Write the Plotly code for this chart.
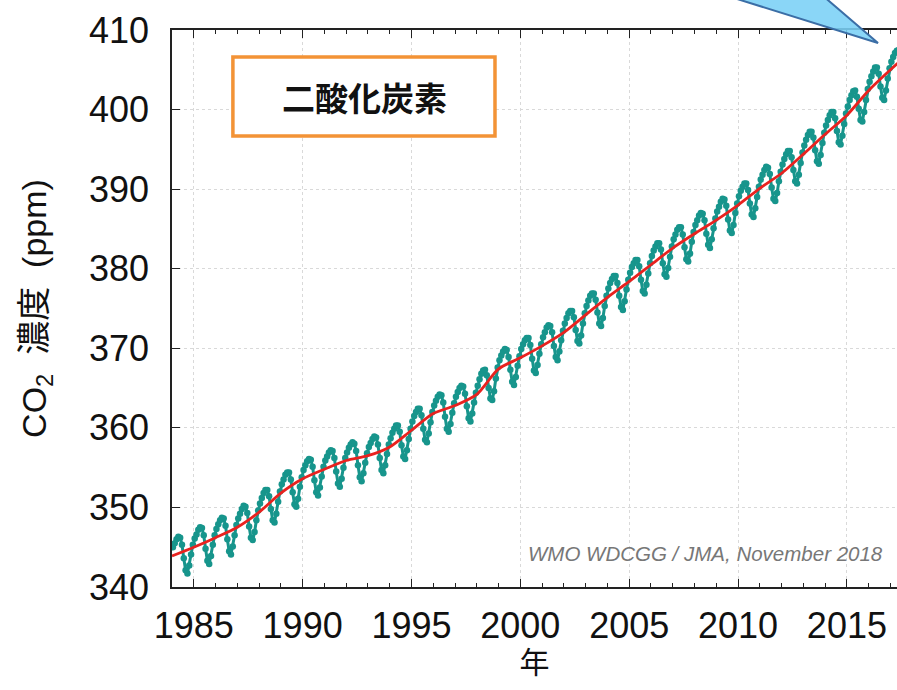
import plotly.graph_objects as go

# Monthly CO2 concentration (ppm), one row per year, Jan..Dec
years = list(range(1984, 2018))
monthly_ppm = [
    [345.0, 345.5, 346.0, 346.3, 346.2, 345.3, 343.6, 342.1, 341.7, 342.7, 344.1, 345.3],  # 1984
    [346.1, 346.6, 347.2, 347.5, 347.4, 346.5, 344.8, 343.3, 342.9, 343.9, 345.3, 346.5],  # 1985
    [347.3, 347.9, 348.4, 348.7, 348.6, 347.7, 346.0, 344.5, 344.1, 345.1, 346.5, 347.8],  # 1986
    [348.6, 349.2, 349.8, 350.2, 350.1, 349.3, 347.6, 346.2, 345.9, 346.9, 348.4, 349.6],  # 1987
    [350.5, 351.2, 351.8, 352.2, 352.2, 351.4, 349.8, 348.4, 348.1, 349.2, 350.7, 352.0],  # 1988
    [352.9, 353.5, 354.1, 354.4, 354.4, 353.5, 351.9, 350.4, 350.1, 351.1, 352.6, 353.8],  # 1989
    [354.7, 355.3, 355.8, 356.1, 356.0, 355.1, 353.4, 351.9, 351.5, 352.5, 353.9, 355.1],  # 1990
    [355.9, 356.4, 356.9, 357.2, 357.1, 356.2, 354.5, 353.0, 352.6, 353.6, 355.0, 356.2],  # 1991
    [356.9, 357.5, 357.9, 358.2, 358.0, 357.1, 355.3, 353.8, 353.3, 354.3, 355.6, 356.8],  # 1992
    [357.6, 358.1, 358.6, 358.9, 358.8, 357.9, 356.2, 354.7, 354.3, 355.3, 356.7, 357.9],  # 1993
    [358.7, 359.4, 359.9, 360.3, 360.3, 359.5, 357.8, 356.4, 356.1, 357.2, 358.6, 359.9],  # 1994
    [360.8, 361.5, 362.0, 362.4, 362.4, 361.6, 359.9, 358.5, 358.2, 359.3, 360.7, 362.0],  # 1995
    [362.8, 363.4, 363.9, 364.2, 364.1, 363.2, 361.4, 359.9, 359.5, 360.5, 361.9, 363.1],  # 1996
    [363.9, 364.5, 365.0, 365.3, 365.2, 364.3, 362.7, 361.2, 360.8, 361.8, 363.2, 364.4],  # 1997
    [365.3, 366.1, 366.8, 367.2, 367.3, 366.6, 365.0, 363.7, 363.5, 364.6, 366.2, 367.6],  # 1998
    [368.5, 369.1, 369.6, 369.9, 369.8, 368.9, 367.3, 365.8, 365.4, 366.4, 367.8, 369.0],  # 1999
    [369.9, 370.5, 371.0, 371.3, 371.3, 370.4, 368.7, 367.2, 366.9, 367.9, 369.3, 370.5],  # 2000
    [371.4, 372.0, 372.6, 372.9, 372.8, 372.0, 370.3, 368.9, 368.5, 369.6, 371.0, 372.2],  # 2001
    [373.1, 373.8, 374.4, 374.7, 374.7, 373.9, 372.3, 370.9, 370.6, 371.6, 373.1, 374.4],  # 2002
    [375.3, 376.0, 376.6, 376.9, 376.9, 376.1, 374.5, 373.1, 372.8, 373.8, 375.3, 376.6],  # 2003
    [377.5, 378.2, 378.7, 379.1, 379.1, 378.2, 376.6, 375.2, 374.8, 375.9, 377.4, 378.6],  # 2004
    [379.5, 380.2, 380.7, 381.1, 381.1, 380.3, 378.6, 377.2, 376.9, 378.0, 379.4, 380.7],  # 2005
    [381.6, 382.3, 382.8, 383.2, 383.2, 382.4, 380.7, 379.3, 379.0, 380.1, 381.5, 382.8],  # 2006
    [383.7, 384.3, 384.9, 385.2, 385.2, 384.3, 382.7, 381.2, 380.9, 381.9, 383.4, 384.6],  # 2007
    [385.5, 386.1, 386.7, 387.0, 386.9, 386.1, 384.4, 383.0, 382.6, 383.7, 385.1, 386.3],  # 2008
    [387.2, 387.8, 388.4, 388.8, 388.7, 387.9, 386.2, 384.8, 384.5, 385.5, 387.0, 388.2],  # 2009
    [389.1, 389.8, 390.3, 390.7, 390.7, 389.9, 388.2, 386.8, 386.5, 387.6, 389.0, 390.3],  # 2010
    [391.2, 391.8, 392.4, 392.8, 392.7, 391.9, 390.2, 388.8, 388.5, 389.5, 391.0, 392.2],  # 2011
    [393.1, 393.8, 394.4, 394.8, 394.8, 394.0, 392.4, 391.0, 390.7, 391.8, 393.3, 394.6],  # 2012
    [395.5, 396.2, 396.8, 397.2, 397.2, 396.5, 394.9, 393.5, 393.2, 394.3, 395.8, 397.1],  # 2013
    [398.0, 398.7, 399.3, 399.7, 399.7, 398.9, 397.3, 395.9, 395.6, 396.7, 398.2, 399.5],  # 2014
    [400.4, 401.2, 401.8, 402.3, 402.4, 401.6, 400.1, 398.7, 398.5, 399.7, 401.2, 402.6],  # 2015
    [403.5, 404.2, 404.8, 405.3, 405.3, 404.5, 402.9, 401.5, 401.2, 402.4, 403.9, 405.2],  # 2016
    [406.0, 406.6, 407.1, 407.4, 407.5, 406.8, 405.3, 404.0, 403.7, 404.8, 406.3, 407.6],  # 2017
]

# Deseasonalised trend (ppm) at the start of each year
trend_years = list(range(1984, 2019))
trend_ppm = [343.9, 345.0, 346.2, 347.5, 349.4, 351.8, 353.6, 354.8, 355.9, 356.5,
             357.6, 359.7, 361.8, 362.8, 364.2, 367.4, 368.8, 370.3, 372.0, 374.2,
             376.4, 378.4, 380.5, 382.6, 384.4, 386.1, 388.0, 390.1, 392.0, 394.4,
             396.9, 399.3, 402.4, 405.0, 407.4]

x_ticks = [1985, 1990, 1995, 2000, 2005, 2010, 2015]
y_ticks = [340, 350, 360, 370, 380, 390, 400, 410]

# Decimal-year time axis at mid-month
t_month = []
v_month = []
for yr, row in zip(years, monthly_ppm):
    for m, v in enumerate(row):
        t_month.append(yr + (m + 0.5) / 12)
        v_month.append(v)

TEAL = "#17958c"
RED = "#e8221f"
FONT = "Liberation Sans, Arial, Noto Sans CJK JP, sans-serif"

fig = go.Figure()
fig.add_trace(go.Scatter(
    x=t_month, y=v_month, mode="lines+markers",
    line=dict(color=TEAL, width=3),
    marker=dict(color=TEAL, size=6.5),
    showlegend=False, hoverinfo="skip",
))
fig.add_trace(go.Scatter(
    x=trend_years, y=trend_ppm, mode="lines",
    line=dict(color=RED, width=2.8, shape="spline", smoothing=0.8),
    showlegend=False, hoverinfo="skip",
))

axis_common = dict(
    showline=True, linecolor="#222222", linewidth=1.6,
    ticks="inside", tickcolor="#222222", tickwidth=1.4, ticklen=8,
    showgrid=True, gridcolor="#d9d9d9", gridwidth=1, griddash="dot",
    zeroline=False,
    tickfont=dict(family=FONT, size=36, color="#111111"),
)

fig.update_xaxes(
    **axis_common,
    range=[1984.0, 2017.3],
    tickvals=x_ticks, ticktext=[str(v) for v in x_ticks],
    mirror="ticks",
    minor=dict(dtick=1, tick0=1984, ticks="inside", ticklen=4,
               tickcolor="#222222", tickwidth=1.2, showgrid=False),
    ticklabelstandoff=6,
    title=dict(text="年", font=dict(family=FONT, size=30, color="#111111"),
               standoff=6),
)
fig.update_yaxes(
    **axis_common,
    range=[340, 410],
    tickvals=y_ticks, ticktext=[str(v) for v in y_ticks],
    ticklabelstandoff=14,
    title=dict(text="CO<sub>2</sub>  濃度  (ppm)",
               font=dict(family=FONT, size=34, color="#111111"),
               standoff=32),
)

fig.update_layout(
    width=897, height=690,
    margin=dict(l=172, r=0, t=30, b=103),
    paper_bgcolor="white", plot_bgcolor="white",
    font=dict(family=FONT),
)

# Label box for the gas name
fig.add_shape(type="rect", xref="paper", yref="paper",
              x0=0.084, x1=0.4455, y0=0.8097, y1=0.9515,
              line=dict(color="#f39336", width=3.5), fillcolor="white", layer="above")
fig.add_annotation(xref="paper", yref="paper", x=0.265, y=0.8806,
                   xanchor="center", yanchor="middle",
                   text="<b>二酸化炭素</b>", showarrow=False,
                   font=dict(family="Noto Sans CJK JP", size=33, color="#111111"))

# Data source credit
fig.add_annotation(xref="paper", yref="paper", x=0.983, y=0.061,
                   xanchor="right", yanchor="middle",
                   text="<i>WMO WDCGG / JMA, November 2018</i>", showarrow=False,
                   font=dict(family=FONT, size=20.5, color="#777777"))

# Callout pointer reaching into the top-right corner
fig.add_shape(type="path", xref="paper", yref="paper",
              path="M 0.7393 1.072 L 0.8883 1.072 L 0.9738 0.9767 Z",
              line=dict(color="#3b6ea6", width=2),
              fillcolor="rgba(122,208,246,0.88)", layer="above")

fig.write_html("out.html")
